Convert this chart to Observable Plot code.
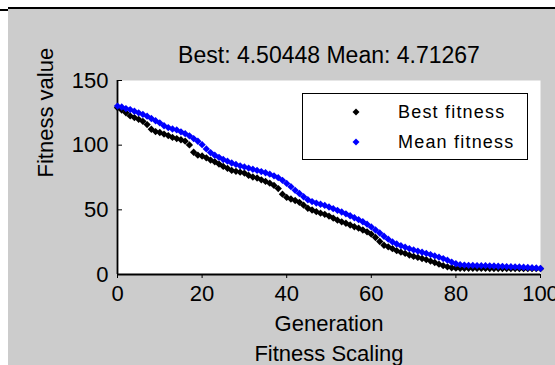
<!DOCTYPE html>
<html>
<head>
<meta charset="utf-8">
<script src="https://cdn.jsdelivr.net/npm/d3@7"></script>
<script src="https://cdn.jsdelivr.net/npm/@observablehq/plot@0.6"></script>
<style>
  html, body { margin: 0; padding: 0; background: #ffffff; width: 555px; height: 365px; overflow: hidden; }
  #panel { position: absolute; left: 8px; top: 9px; width: 547px; height: 356px; background: #cccccc; }
  #topline { position: absolute; left: 8px; top: 7px; width: 547px; height: 2px; background: #000; }
  #leftline { position: absolute; left: 0px; top: 9px; width: 8px; height: 2px; background: #000; }
  #legend { position: absolute; z-index: 5; left: 302px; top: 93px; width: 224px; height: 65px; background: #fff; border: 1px solid #000;
            font-family: "Liberation Sans", Arial, sans-serif; font-size: 18px; letter-spacing: 1.2px; color: #000; }
  .mk { position: absolute; left: 48px; }
  .lbl { position: absolute; left: 95px; height: 20px; line-height: 20px; white-space: nowrap; }
</style>
</head>
<body>
<div id="panel"></div>
<div id="topline"></div>
<div id="leftline"></div>
<script>
const titleText = "Best: 4.50448 Mean: 4.71267";
const xLabel = "Generation";
const subLabel = "Fitness Scaling";
const yLabel = "Fitness value";
const seriesNames = ["Best fitness", "Mean fitness"];
const seriesColors = ["#000000", "#0000ff"];
const xTicks = [0, 20, 40, 60, 80, 100];
const yTicks = [0, 50, 100, 150];

const bestFitness = [
  129.0, 127.1, 125.0, 122.6, 121.3, 120.0, 118.4, 115.9, 112.3, 110.5,
  109.8, 108.6, 107.4, 106.0, 105.1, 104.2, 103.1, 100.2, 94.5, 92.3,
  91.6, 90.2, 88.5, 87.1, 85.4, 83.6, 82.1, 80.5, 79.8, 79.1,
  78.4, 76.6, 75.4, 74.6, 73.2, 72.0, 70.6, 68.9, 66.4, 62.1,
  59.6, 58.4, 57.2, 55.8, 53.6, 51.2, 49.9, 48.6, 47.4, 46.5,
  45.2, 43.6, 42.0, 40.7, 39.6, 38.3, 36.9, 35.8, 34.4, 33.0,
  31.2, 28.6, 25.5, 22.6, 21.4, 20.0, 18.4, 17.3, 16.3, 15.0,
  14.0, 13.2, 12.4, 11.5, 10.4, 9.3, 8.0, 6.8, 5.9, 5.2,
  4.9, 4.85, 4.8, 4.8, 4.75, 4.7, 4.7, 4.7, 4.65, 4.6,
  4.6, 4.6, 4.55, 4.55, 4.55, 4.52, 4.52, 4.51, 4.51, 4.505,
  4.50448
];
const meanFitness = [
  130.2, 129.5, 128.3, 127.5, 126.2, 125.0, 123.8, 122.4, 120.6, 118.9,
  117.2, 115.0, 113.6, 112.5, 111.8, 110.3, 108.9, 107.2, 105.1, 103.0,
  100.4, 97.1, 94.3, 92.2, 90.6, 88.9, 87.6, 86.2, 85.1, 84.0,
  83.2, 82.3, 81.4, 80.5, 79.6, 78.7, 77.6, 76.3, 74.9, 72.8,
  70.4, 67.9, 65.1, 62.6, 60.1, 57.8, 56.4, 55.2, 54.3, 53.4,
  52.2, 50.9, 49.6, 48.3, 46.9, 45.4, 43.9, 42.4, 40.8, 38.9,
  36.8, 34.4, 32.1, 29.6, 27.3, 25.2, 23.6, 22.3, 21.1, 20.0,
  19.0, 18.1, 17.2, 16.3, 15.4, 14.4, 13.4, 12.3, 11.1, 9.6,
  8.3, 7.6, 7.3, 7.1, 7.0, 6.9, 6.8, 6.8, 6.7, 6.6,
  6.4, 6.3, 6.1, 6.0, 5.9, 5.8, 5.6, 5.4, 5.2, 5.0,
  4.71267
];
const generations = bestFitness.map((_, i) => i);

const rows = generations.map((g, i) => ({gen: g, best: bestFitness[i], mean: meanFitness[i]}));
const font = "'Liberation Sans', Arial, sans-serif";

const chart = Plot.plot({
  width: 547,
  height: 356,
  marginLeft: 109,
  marginRight: 15,
  marginTop: 71,
  marginBottom: 91,
  style: { fontFamily: font, fontSize: "22px", background: "transparent", color: "#000", overflow: "visible" },
  x: { domain: [0, 100], axis: null, label: null },
  y: { domain: [0, 150], axis: null, label: null },
  marks: [
    Plot.frame({ fill: "white", stroke: null }),
    Plot.tickX(xTicks, { x: d => d, stroke: "#000", strokeWidth: 1, insetTop: 198 }),
    Plot.tickY(yTicks, { y: d => d, stroke: "#000", strokeWidth: 1, insetRight: 418 }),
    Plot.axisX(xTicks, { anchor: "bottom", label: null, tickSize: 0, tickPadding: 11, fontSize: 22, tickFormat: d => String(d) }),
    Plot.axisY(yTicks, { anchor: "left", label: null, tickSize: 0, tickPadding: 9, fontSize: 22, tickFormat: d => String(d) }),
    Plot.ruleY([0], { stroke: "#000", strokeWidth: 1.8 }),
    Plot.ruleX([0], { stroke: "#000", strokeWidth: 1.8 }),
    Plot.dot(rows, { x: "gen", y: "best", symbol: "diamond2", r: 3.3, fill: seriesColors[0], stroke: null }),
    Plot.dot(rows, { x: "gen", y: "mean", symbol: "diamond2", r: 3.3, fill: seriesColors[1], stroke: null }),
    Plot.text([titleText], { frameAnchor: "top", dy: -18, fontSize: 23, lineAnchor: "bottom", fill: "#000", letterSpacing: "0.4px" }),
    Plot.text([xLabel], { frameAnchor: "bottom", dy: 56, fontSize: 22, lineAnchor: "bottom", fill: "#000", letterSpacing: "0.8px" }),
    Plot.text([subLabel], { frameAnchor: "bottom", dy: 86, fontSize: 22, lineAnchor: "bottom", fill: "#000", letterSpacing: "0.8px" }),
    Plot.text([yLabel], { frameAnchor: "left", dx: -65, rotate: -90, fontSize: 22, lineAnchor: "bottom", fill: "#000", letterSpacing: "0.8px" })
  ]
});
chart.style.position = "absolute";
chart.style.left = "8px";
chart.style.top = "9px";
document.body.appendChild(chart);

const legend = document.createElement("div");
legend.id = "legend";
seriesNames.forEach((name, i) => {
  const mk = document.createElementNS("http://www.w3.org/2000/svg", "svg");
  mk.setAttribute("class", "mk");
  mk.setAttribute("width", "10");
  mk.setAttribute("height", "10");
  mk.style.top = (13 + i * 30) + "px";
  mk.innerHTML = `<path d="M5,1.5L8.5,5L5,8.5L1.5,5Z" fill="${seriesColors[i]}"/>`;
  legend.appendChild(mk);
  const lbl = document.createElement("div");
  lbl.className = "lbl";
  lbl.style.top = (8 + i * 30) + "px";
  lbl.textContent = name;
  legend.appendChild(lbl);
});
document.body.appendChild(legend);
</script>
</body>
</html>
